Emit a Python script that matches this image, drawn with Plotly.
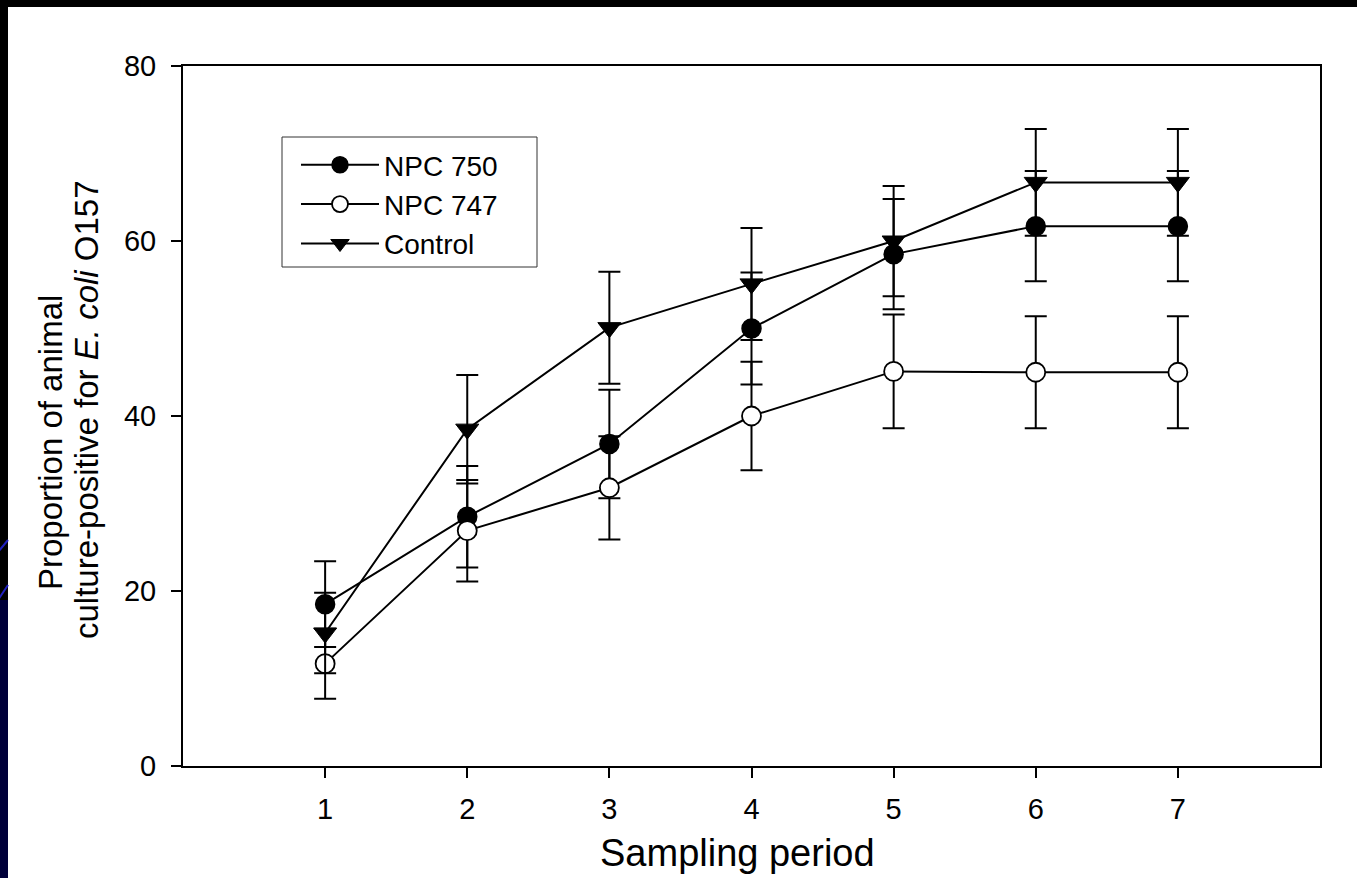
import plotly.graph_objects as go

periods = [1, 2, 3, 4, 5, 6, 7]
npc750 = [18.5, 28.5, 36.8, 50.0, 58.5, 61.7, 61.7]
npc750_err = [4.9, 5.8, 6.2, 6.4, 6.3, 6.3, 6.3]
npc747 = [11.7, 26.9, 31.8, 40.0, 45.1, 45.0, 45.0]
npc747_err = [4.0, 5.8, 5.9, 6.2, 6.5, 6.4, 6.4]
control = [15.2, 38.5, 50.1, 55.1, 60.0, 66.7, 66.7]
control_err = [4.6, 6.2, 6.4, 6.4, 6.3, 6.1, 6.1]

series = [
    ("NPC 750", npc750, npc750_err, dict(symbol="circle", size=19, color="black",
                                          line=dict(color="black", width=1.5))),
    ("NPC 747", npc747, npc747_err, dict(symbol="circle", size=19, color="white",
                                          line=dict(color="black", width=1.8))),
    ("Control", control, control_err, dict(symbol="triangle-down", size=20, color="black",
                                           line=dict(color="black", width=1))),
]

FONT = "Liberation Sans, Arial, sans-serif"

fig = go.Figure()
for name, vals, errs, mk in series:
    fig.add_trace(go.Scatter(
        x=periods, y=vals, name=name, mode="lines+markers",
        line=dict(color="black", width=2),
        marker=mk,
        error_y=dict(type="data", array=errs, visible=True,
                     color="black", thickness=2, width=11),
    ))

# page geometry (pixels)
W, H = 1357, 878
L, R, T, B = 183, 1320, 66, 766
pw, ph = R - L, B - T

def px_x(p):
    return (p - L) / pw

def px_y(p):
    return (B - p) / ph

shapes = [
    # white slide area
    dict(type="rect", xref="paper", yref="paper", layer="below",
         x0=px_x(8), x1=px_x(W + 5), y0=px_y(H + 5), y1=px_y(7),
         fillcolor="white", line=dict(width=0)),
    # dark blue slide decoration on the left edge
    dict(type="rect", xref="paper", yref="paper", layer="below",
         x0=px_x(-2), x1=px_x(8), y0=px_y(H + 5), y1=px_y(600),
         fillcolor="#00003a", line=dict(width=0)),
    dict(type="line", xref="paper", yref="paper", layer="below",
         x0=px_x(-2), x1=px_x(8), y0=px_y(552), y1=px_y(540),
         line=dict(color="#2020c0", width=2)),
    dict(type="line", xref="paper", yref="paper", layer="below",
         x0=px_x(-2), x1=px_x(8), y0=px_y(600), y1=px_y(585),
         line=dict(color="#2020c0", width=2)),
    # legend frame
    dict(type="rect", xref="paper", yref="paper", layer="below",
         x0=px_x(282), x1=px_x(537), y0=px_y(267), y1=px_y(137),
         fillcolor="white", line=dict(color="#333333", width=1)),
]

annotations = [
    dict(text="Sampling period", xref="paper", yref="paper",
         x=px_x(737), y=px_y(853), xanchor="center", yanchor="middle",
         showarrow=False, font=dict(family=FONT, size=38, color="black")),
    dict(text="Proportion of animal", xref="paper", yref="paper",
         x=px_x(50), y=px_y(443), xanchor="center", yanchor="middle", textangle=-90,
         showarrow=False, font=dict(family=FONT, size=33, color="black")),
    dict(text="culture-positive for <i>E. coli</i> O157", xref="paper", yref="paper",
         x=px_x(86), y=px_y(410), xanchor="center", yanchor="middle", textangle=-90,
         showarrow=False, font=dict(family=FONT, size=33, color="black")),
]

fig.update_layout(
    width=W, height=H,
    margin=dict(l=L, r=W - R, t=T, b=H - B, pad=0),
    paper_bgcolor="black",
    plot_bgcolor="white",
    showlegend=True,
    legend=dict(x=px_x(296), y=px_y(140), xanchor="left", yanchor="top",
                bgcolor="rgba(0,0,0,0)", borderwidth=0,
                font=dict(family=FONT, size=28, color="black"),
                itemwidth=78, tracegroupgap=0),
    shapes=shapes,
    annotations=annotations,
    font=dict(family=FONT, color="black"),
)

fig.update_xaxes(range=[0, 8], tickvals=periods, ticktext=[str(p) for p in periods],
                 showgrid=False, zeroline=False, showline=True, mirror=True,
                 linecolor="black", linewidth=2, ticks="outside", ticklen=10,
                 tickwidth=2, tickcolor="black", ticklabelstandoff=6,
                 tickfont=dict(family=FONT, size=29, color="black"))
fig.update_yaxes(range=[0, 80], tickvals=[0, 20, 40, 60, 80],
                 showgrid=False, zeroline=False, showline=True, mirror=True,
                 linecolor="black", linewidth=2, ticks="outside", ticklen=10,
                 tickwidth=2, tickcolor="black", ticklabelstandoff=9,
                 tickfont=dict(family=FONT, size=29, color="black"))

fig.write_html("out.html")
